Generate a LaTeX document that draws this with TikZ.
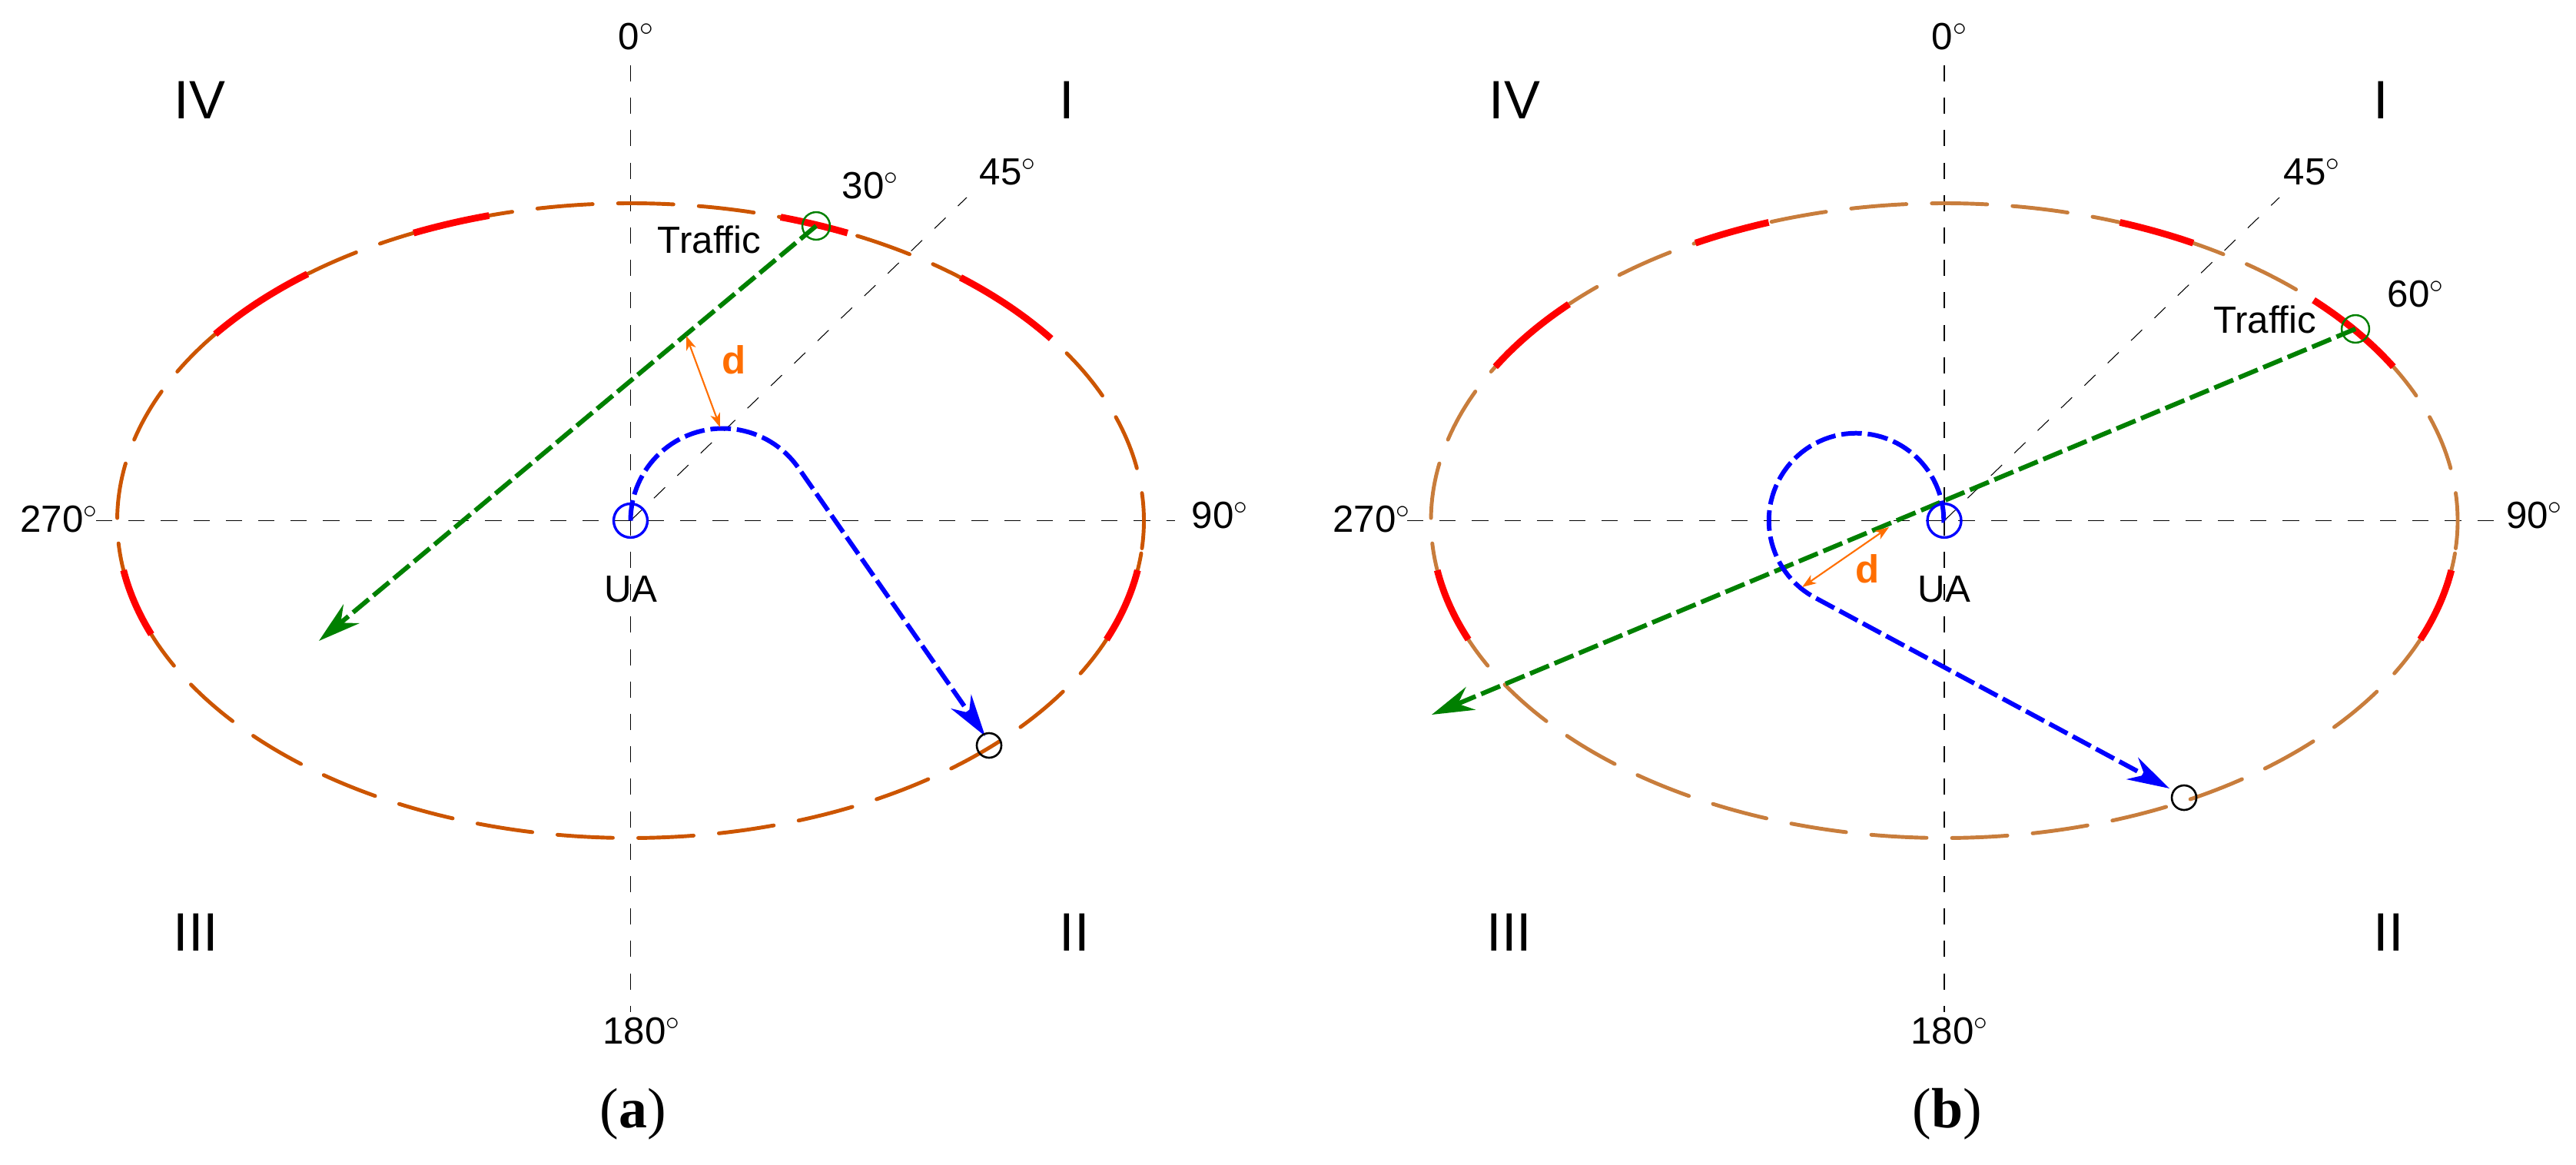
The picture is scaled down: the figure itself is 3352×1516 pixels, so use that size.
\documentclass[tikz,border=0pt]{standalone}
\usepackage{fontspec}
\setmainfont{Liberation Sans}
\newfontfamily\capfont{Liberation Serif}
\usetikzlibrary{arrows.meta}
\definecolor{ellA}{RGB}{204,85,0}
\definecolor{ellB}{RGB}{200,125,60}
\definecolor{trafG}{RGB}{0,128,0}
\definecolor{dOr}{RGB}{255,110,0}
\definecolor{redseg}{RGB}{255,0,0}
\begin{document}
\begin{tikzpicture}[x=0.01cm,y=-0.01cm,
  axisline/.style={black, line width=0.5pt, dash pattern=on 6pt off 6pt},
  diagline/.style={black, line width=0.3pt, dash pattern=on 5.7pt off 6.3pt},
  ring/.style={line width=1.4pt, line cap=round, dash pattern=on 20.5pt off 9.4pt},
  hot/.style={redseg, line width=2.5pt},
  track/.style={line width=1.7pt, dash pattern=on 7.6pt off 2.2pt, -{Stealth[length=15.6pt,width=9.1pt,inset=5.1pt]}},
  dist/.style={dOr, line width=0.6pt, {Stealth[length=5.2pt,width=3.7pt,inset=1.5pt]}-{Stealth[length=5.2pt,width=3.7pt,inset=1.5pt]}},
  lbl/.style={font=\fontsize{14pt}{16pt}\selectfont, inner sep=0pt},
  quad/.style={font=\fontsize{20pt}{22pt}\selectfont, inner sep=0pt},
  capt/.style={font=\capfont\fontsize{21pt}{24pt}\selectfont, inner sep=0pt},
  dlbl/.style={font=\bfseries\fontsize{14.5pt}{16pt}\selectfont, text=dOr, inner sep=0pt},
  uac/.style={circle, draw=blue, line width=0.95pt, minimum size=12.5pt, inner sep=0pt},
  trc/.style={circle, draw=trafG, line width=0.7pt, minimum size=10.2pt, inner sep=0pt},
  tgc/.style={circle, draw=black, line width=0.75pt, minimum size=9.1pt, inner sep=0pt}
]
\useasboundingbox (0,0) rectangle (3352,1516);

% ================= panel (a) =================
\coordinate (uaA) at (820.5,677.5);
\coordinate (trA) at (1062,294);
\coordinate (tgA) at (1287,970);
\coordinate (gtipA) at (415,834);
\coordinate (btipA) at (1282,958);
\coordinate (vtA) at (820.5,85);
\coordinate (vbA) at (820.5,1317);
\coordinate (hlA) at (125,677.5);
\coordinate (hrA) at (1529,677.5);
\coordinate (d45A) at (1258,257);
\coordinate (dA1) at (893,437);
\coordinate (dA2) at (937,556);

\draw[axisline] (vtA) -- (vbA);
\draw[axisline] (hlA) -- (hrA);
\draw[diagline] (uaA) -- (d45A);

\draw[ring, ellA] plot[domain=-5:355, samples=361] ({820.5+668*cos(\x)},{677.5-413*sin(\x)});
\foreach \a/\b in {35/50, 65/73, 106/115, 129/144, -22/-9, 189/201}
  \draw[hot] plot[domain=\a:\b, samples=20] ({820.5+668*cos(\x)},{677.5-413*sin(\x)});

\draw[track, trafG] (trA) -- (gtipA);
\draw[track, blue] (uaA) -- plot[domain=180:35, samples=50] ({940.5+120*cos(\x)},{677.5-120*sin(\x)}) -- (btipA);
\draw[dist] (dA1) -- (dA2);

\node[uac] (uaAring) at (uaA) {};
\node[trc] (trAring) at (trA) {};
\node[tgc] (tgAring) at (tgA) {};

\node[lbl] (l0A) at (828,48) {0$^{\circ}$};
\node[lbl] (l180A) at (835,1342) {180$^{\circ}$};
\node[lbl] (l270A) at (77,676) {270$^{\circ}$};
\node[lbl] (l90A) at (1588,671) {90$^{\circ}$};
\node[lbl] (l45A) at (1312,224) {45$^{\circ}$};
\node[lbl] (l30A) at (1133,242) {30$^{\circ}$};
\node[lbl] (trafA) at (923,312) {Traffic};
\node[lbl] (uaAl) at (821,767) {UA};
\node[dlbl] (dAl) at (955,468) {d};
\node[quad] (q4A) at (260,130) {IV};
\node[quad] (q1A) at (1388,130) {I};
\node[quad] (q3A) at (255,1213) {III};
\node[quad] (q2A) at (1398,1213) {II};
\node[capt] (capA) at (824,1450) {(\textbf{a})};

% ================= panel (b) =================
\coordinate (uaB) at (2530,677.5);
\coordinate (trB) at (3065,428);
\coordinate (tgB) at (2842,1038);
\coordinate (gtipB) at (1863,930);
\coordinate (btipB) at (2823,1026);
\coordinate (vtB) at (2530,85);
\coordinate (vbB) at (2530,1317);
\coordinate (hlB) at (1831,677.5);
\coordinate (hrB) at (3257,677.5);
\coordinate (d45B) at (2966,257);
\coordinate (dB1) at (2458,686);
\coordinate (dB2) at (2345,764);

\draw[axisline] (vtB) -- (vbB);
\draw[axisline] (hlB) -- (hrB);
\draw[diagline] (uaB) -- (d45B);

\draw[ring, ellB] plot[domain=-5:355, samples=361] ({2530+668*cos(\x)},{677.5-413*sin(\x)});
\foreach \a/\b in {29/44, 61/70, 110/119, 137/151, -22/-9, 189/202}
  \draw[hot] plot[domain=\a:\b, samples=20] ({2530+668*cos(\x)},{677.5-413*sin(\x)});

\draw[track, trafG] (trB) -- (gtipB);
\draw[track, blue] (uaB) -- plot[domain=0:240, samples=70] ({2415.5+113.8*cos(\x)},{677.5-113.8*sin(\x)}) -- (btipB);
\draw[dist] (dB1) -- (dB2);

\node[uac] (uaBring) at (uaB) {};
\node[trc] (trBring) at (trB) {};
\node[tgc] (tgBring) at (tgB) {};

\node[lbl] (l0B) at (2537,48) {0$^{\circ}$};
\node[lbl] (l180B) at (2537,1342) {180$^{\circ}$};
\node[lbl] (l270B) at (1785,676) {270$^{\circ}$};
\node[lbl] (l90B) at (3298,671) {90$^{\circ}$};
\node[lbl] (l45B) at (3009,224) {45$^{\circ}$};
\node[lbl] (l60B) at (3144,383) {60$^{\circ}$};
\node[lbl] (trafB) at (2947,416) {Traffic};
\node[lbl] (uaBl) at (2530,767) {UA};
\node[dlbl] (dBl) at (2430,740) {d};
\node[quad] (q4B) at (1971,130) {IV};
\node[quad] (q1B) at (3098,130) {I};
\node[quad] (q3B) at (1964,1213) {III};
\node[quad] (q2B) at (3108,1213) {II};
\node[capt] (capB) at (2534,1450) {(\textbf{b})};
\end{tikzpicture}
\end{document}
